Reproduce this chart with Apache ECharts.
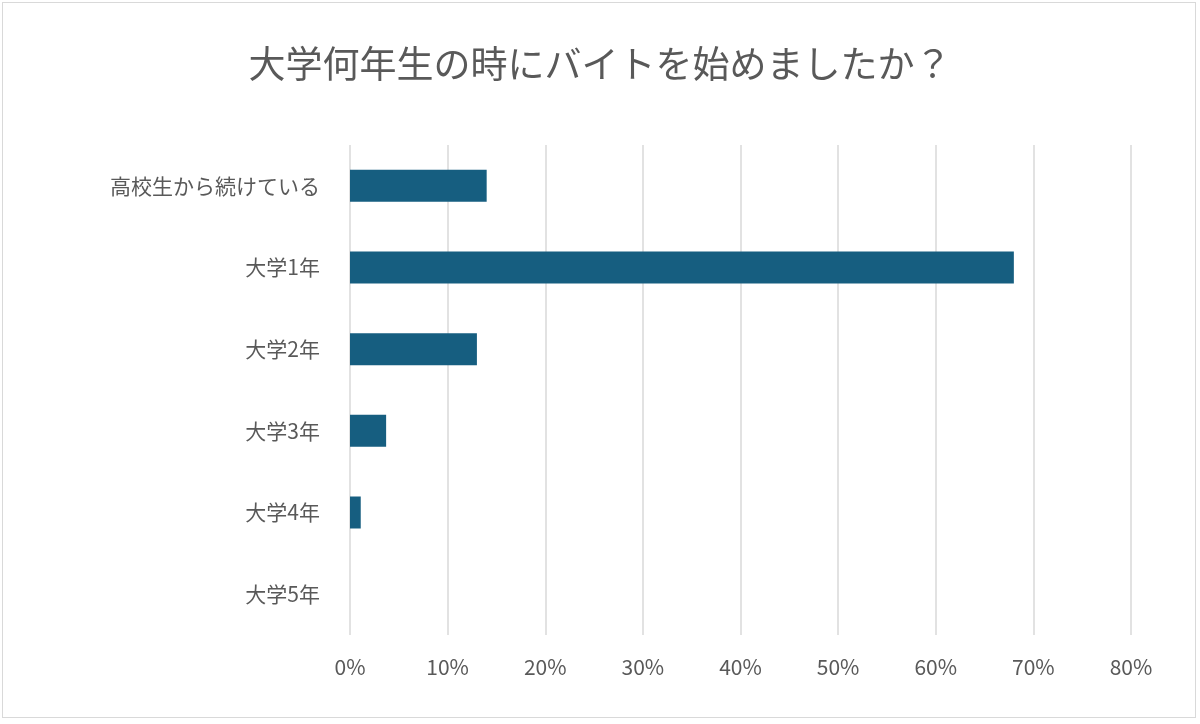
<!DOCTYPE html>
<html><head><meta charset="utf-8">
<script src="https://cdn.jsdelivr.net/npm/echarts@6/dist/echarts.min.js"></script>
<style>html,body{margin:0;padding:0;background:#fff}#c{width:1200px;height:724px}
#b{position:absolute;left:2px;top:2px;width:1194px;height:716px;border:1.5px solid #d9d9d9;box-sizing:border-box;pointer-events:none}</style>
</head><body><div id="c"></div><div id="b"></div>
<script>
const categories = ['高校生から続けている','大学1年','大学2年','大学3年','大学4年','大学5年'];
const values = [14, 68, 13, 3.7, 1.1, 0];
const chart = echarts.init(document.getElementById('c'));
chart.setOption({
  animation:false,
  title:{text:'大学何年生の時にバイトを始めましたか？',left:'center',top:40,
    textStyle:{fontFamily:'Noto Sans CJK JP',fontSize:37,fontWeight:'normal',color:'#595959'}},
  grid:{left:350,right:69,top:145,bottom:89,containLabel:false},
  xAxis:{type:'value',min:0,max:80,interval:10,
    axisLabel:{formatter:'{value}%',color:'#595959',fontSize:21,fontFamily:'Noto Sans CJK JP',margin:22},
    splitLine:{lineStyle:{color:'#d9d9d9',width:1.5}},axisLine:{show:false},axisTick:{show:false}},
  yAxis:{type:'category',inverse:true,data:categories,
    axisLabel:{color:'#595959',fontSize:21,fontFamily:'Noto Sans CJK JP',margin:30},
    axisLine:{show:false},axisTick:{show:false}},
  series:[{type:'bar',data:values,barWidth:32,itemStyle:{color:'#165E80'}}]
});
</script></body></html>
